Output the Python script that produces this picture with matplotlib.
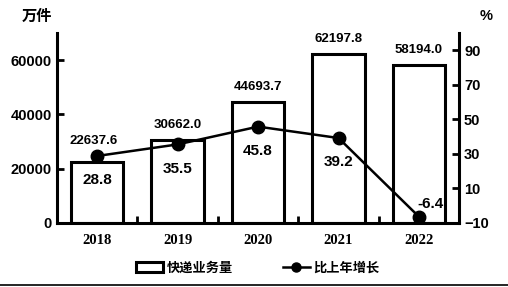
import numpy as np
import matplotlib.pyplot as plt
from matplotlib.lines import Line2D
from matplotlib.patches import Patch

plt.rcParams['font.family'] = ['Liberation Sans', 'Noto Sans CJK SC']
plt.rcParams['font.weight'] = 'bold'

years = ['2018', '2019', '2020', '2021', '2022']
volume = [22637.6, 30662.0, 44693.7, 62197.8, 58194.0]
growth = [28.8, 35.5, 45.8, 39.2, -6.4]

fig = plt.figure(figsize=(5.08, 2.87), dpi=100)
ax = fig.add_axes([0.112, 0.223, 0.792, 0.662])
ax2 = ax.twinx()

x = np.arange(len(years))
ax.bar(x, volume, width=0.65, facecolor='white', edgecolor='black', linewidth=2.2)
for i, (xi, v) in enumerate(zip(x, volume)):
    # first label sits a bit higher, clear of the line marker
    if i == 0:
        ax.text(xi - 0.04, v + 5300, f'{v:.1f}', ha='center', va='bottom', fontsize=9.5)
    else:
        ax.text(xi, v + 3300, f'{v:.1f}', ha='center', va='bottom', fontsize=9.5)

ax2.plot(x, growth, color='black', linewidth=1.8, marker='o', markersize=9)
for xi, g in zip(x, growth):
    if g < 0:
        ax2.text(xi + 0.14, g + 3.5, f'{g:.1f}', ha='center', va='bottom', fontsize=11)
    else:
        ax2.text(xi, g - 10, f'{g:.1f}', ha='center', va='top', fontsize=11)

ax.set_xlim(-0.5, 4.5)
ax.set_ylim(0, 70000)
ax2.set_ylim(-10, 100)
ax.set_yticks([0, 20000, 40000, 60000])
ax2.set_yticks([-10, 10, 30, 50, 70, 90])
ax.set_xticks(x)
ax.set_xticklabels(years, family='Liberation Serif', fontsize=10.5)
ax.set_xticks(np.arange(0.5, 4.5, 1), minor=True)
ax.tick_params(axis='x', which='major', length=0, pad=8)
ax.tick_params(axis='x', which='minor', direction='in', length=5, width=2)
ax.tick_params(axis='y', direction='in', length=5, width=2, labelsize=10.5)
ax2.tick_params(axis='y', direction='in', length=5, width=2, labelsize=10.5)

for a in (ax, ax2):
    a.spines['top'].set_visible(False)
    for s in ('left', 'right', 'bottom'):
        a.spines[s].set_linewidth(2.2)
ax.spines['right'].set_visible(False)
ax2.spines['left'].set_visible(False)
ax2.spines['bottom'].set_visible(False)

fig.text(0.042, 0.945, '万件', fontsize=11, family=['Noto Sans CJK SC'], fontweight='bold', va='center')
fig.text(0.945, 0.945, '%', fontsize=10.5, va='center')

handles = [Patch(facecolor='white', edgecolor='black', linewidth=2.2),
           Line2D([0], [0], color='black', linewidth=1.8, marker='o', markersize=6.5)]
fig.legend(handles, ['快递业务量', '比上年增长'], loc='center', bbox_to_anchor=(0.508, 0.068),
           ncol=2, frameon=False, prop={'family': 'Noto Sans CJK SC', 'weight': 'bold', 'size': 9.5},
           handlelength=2.0, handleheight=0.8, columnspacing=3.8, handletextpad=0.3)

fig.add_artist(Line2D([0, 1], [0.007, 0.007], color='black', linewidth=1.2))

fig.savefig('out.png', dpi=100)
